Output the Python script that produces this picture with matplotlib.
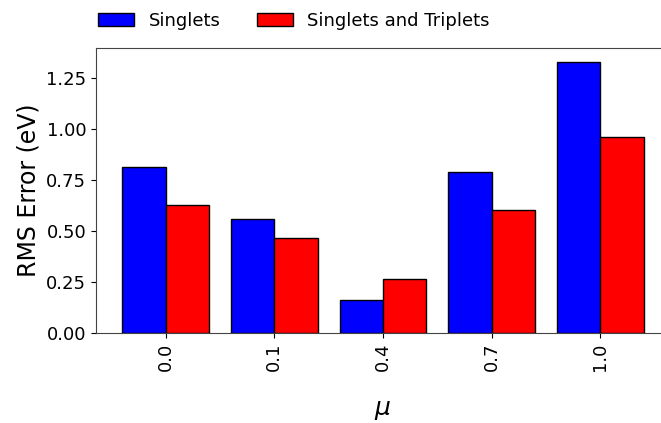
import matplotlib
matplotlib.use("Agg")
import matplotlib.pyplot as plt
import numpy as np

mu_labels = ["0.0", "0.1", "0.4", "0.7", "1.0"]
singlets = [0.81, 0.559, 0.160, 0.789, 1.328]
singlets_triplets = [0.627, 0.466, 0.266, 0.601, 0.958]

fig = plt.figure(figsize=(6.61, 4.23), dpi=100)
ax = fig.add_axes([96/661, 90/423, 574/661, 285/423])

x = np.arange(len(mu_labels))
w = 0.4
ax.bar(x - w/2, singlets, width=w, color="blue", edgecolor="black", linewidth=1, label="Singlets")
ax.bar(x + w/2, singlets_triplets, width=w, color="red", edgecolor="black", linewidth=1, label="Singlets and Triplets")

ax.set_xticks(x)
ax.set_xticklabels(mu_labels, rotation=90, fontsize=13)
ax.tick_params(axis="y", labelsize=13)
ax.set_yticks([0, 0.25, 0.5, 0.75, 1.0, 1.25])
ax.set_ylabel("RMS Error (eV)", fontsize=17)
ax.set_xlabel(r"$\mu$", fontsize=18, labelpad=19)
for s in ax.spines.values():
    s.set_color("#444444")

fig.legend(loc="center", bbox_to_anchor=(0.445, 0.951), bbox_transform=fig.transFigure,
           ncol=2, frameon=False, fontsize=13)

fig.savefig("out.png", dpi=100)
